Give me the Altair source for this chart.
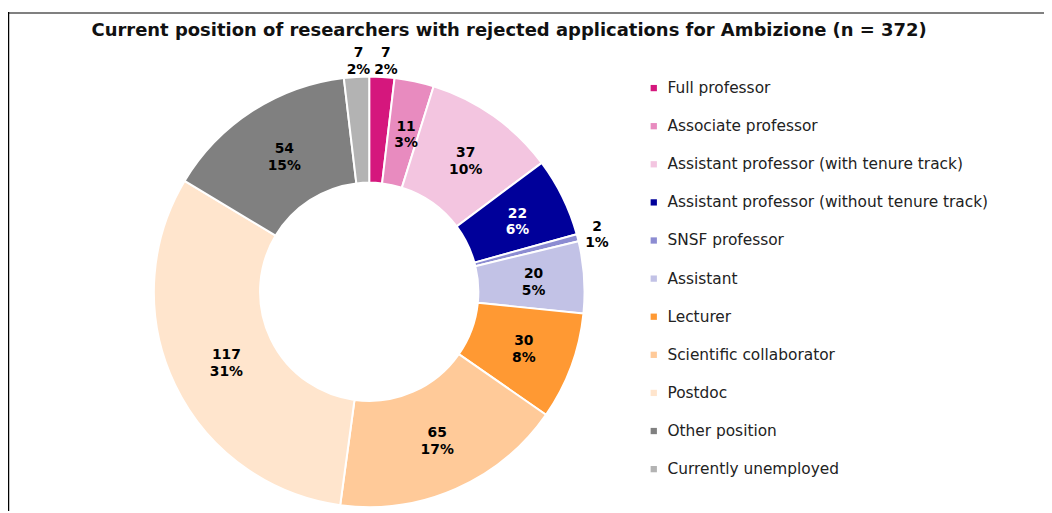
import altair as alt
import pandas as pd
import math

categories = [
    "Full professor",
    "Associate professor",
    "Assistant professor (with tenure track)",
    "Assistant professor (without tenure track)",
    "SNSF professor",
    "Assistant",
    "Lecturer",
    "Scientific collaborator",
    "Postdoc",
    "Other position",
    "Currently unemployed",
]
counts = [7, 11, 37, 22, 2, 20, 30, 65, 117, 54, 7]
palette = [
    "#D5177D", "#E88BBF", "#F3C5E0", "#00009A", "#8C8CD2", "#C2C2E6",
    "#FF9933", "#FFCA99", "#FFE5CD", "#808080", "#B3B3B3",
]
title_text = "Current position of researchers with rejected applications for Ambizione (n = 372)"

df = pd.DataFrame({"category": categories, "count": counts, "order": list(range(len(categories)))})
total = sum(counts)

FONT = "DejaVu Sans"
CX, CY = 364, 284
theta_scale = alt.Scale(domain=[0, total], range=[0, 2 * math.pi])

arcs = alt.Chart(df).mark_arc(innerRadius=110, outerRadius=217, stroke="white", strokeWidth=2).encode(
    theta=alt.Theta("count:Q", stack=True, scale=theta_scale),
    order=alt.Order("order:Q"),
    x=alt.value(CX),
    y=alt.value(CY),
    color=alt.Color(
        "category:N",
        sort=categories,
        scale=alt.Scale(domain=categories, range=palette),
        legend=alt.Legend(
            title=None,
            orient="none",
            legendX=643,
            legendY=71,
            symbolType="square",
            symbolSize=40,
            symbolStrokeWidth=0,
            labelFont=FONT,
            labelFontSize=15.5,
            labelColor="#222222",
            labelOffset=6,
            rowPadding=21.4,
            padding=0,
            labelLimit=400,
        ),
    ),
)

labels = alt.Chart(df).transform_window(
    cum="sum(count)", sort=[alt.SortField("order")], frame=[None, 0]
).transform_calculate(
    mid="datum.cum - datum.count / 2",
    label="datum.count + '\\n' + round(datum.count / %d * 100) + '%%'" % total,
    r="datum.count < 10 ? 234 : 163",
).mark_text(
    font=FONT, fontSize=14, fontWeight="bold", lineBreak="\n", lineHeight=17,
    align="center", baseline="middle",
).encode(
    theta=alt.Theta("mid:Q", stack=None, scale=theta_scale),
    x=alt.value(CX + 3),
    y=alt.value(CY - 7),
    radius=alt.Radius("r:Q", scale=None),
    text="label:N",
    color=alt.condition(
        "datum.category == 'Assistant professor (without tenure track)'",
        alt.value("white"),
        alt.value("black"),
    ),
)

title = alt.Chart(pd.DataFrame({"t": [title_text]})).mark_text(
    font=FONT, fontSize=18.1, fontWeight="bold", align="center", baseline="middle", color="#111111"
).encode(x=alt.value(505), y=alt.value(21), text="t:N")

frame_top = alt.Chart(pd.DataFrame({"a": [0]})).mark_rule(color="#808080", strokeWidth=2).encode(
    x=alt.value(0), x2=alt.value(1044), y=alt.value(3)
)
frame_left = alt.Chart(pd.DataFrame({"a": [0]})).mark_rule(color="#000000", strokeWidth=1.5).encode(
    x=alt.value(0.5), y=alt.value(2), y2=alt.value(505)
)

chart = alt.layer(frame_top, frame_left, arcs, labels, title).properties(
    width=1044, height=505, padding=0, autosize="none"
).configure_view(stroke=None)

chart.save("out.html", embed_options={"renderer": "svg", "actions": False})
